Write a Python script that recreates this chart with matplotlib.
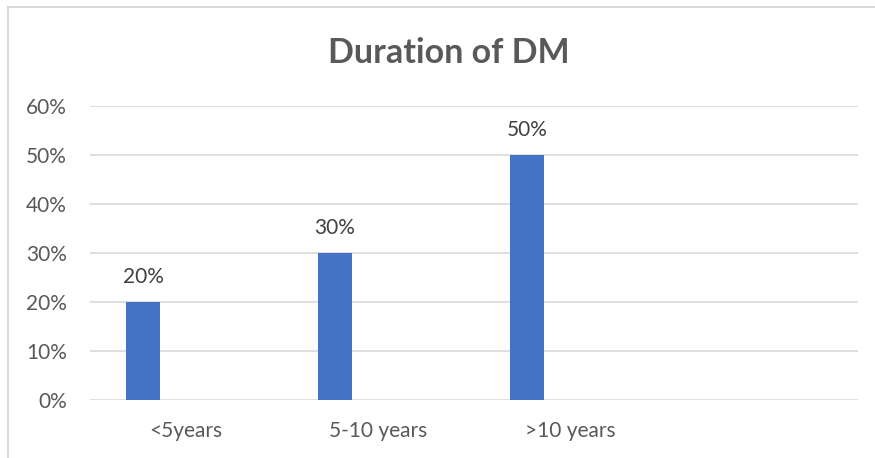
import matplotlib.pyplot as plt
from matplotlib.patches import Rectangle

categories = ["<5years", "5-10 years", ">10 years", ""]
values = [20, 30, 50]
yticks = [0, 10, 20, 30, 40, 50, 60]

W, H = 875, 458
fig = plt.figure(figsize=(W / 100, H / 100), dpi=100)
plt.rcParams['font.family'] = ['Lato', 'DejaVu Sans']
grey = '#595959'

# chart border (runs off the right and bottom edges)
fig.patches.append(Rectangle((8 / W, -0.05), 1.0, 1 - 7 / H + 0.05,
                             transform=fig.transFigure, fill=False,
                             edgecolor='#D9D9D9', linewidth=1.5))

ax = fig.add_axes([90 / W, 1 - 400 / H, 768 / W, 294 / H])
x = range(len(values))
offset = -0.224
bars = ax.bar([i + offset for i in x], values, width=0.177, color='#4472C4', zorder=3)
for i, v in zip(x, values):
    ax.text(i + offset, v + 3.0, f"{v}%", ha='center', va='bottom',
            fontsize=15, color='#404040')

ax.set_xlim(-0.5, len(categories) - 0.5)
ax.set_ylim(0, 60)
ax.set_yticks(yticks)
ax.set_yticklabels([f"{t}%" for t in yticks])
ax.set_xticks(range(len(categories)))
ax.set_xticklabels(categories)
ax.yaxis.grid(True, color='#D9D9D9', linewidth=1.2, zorder=0)
ax.tick_params(length=0, labelsize=15, colors=grey)
ax.tick_params(axis='y', pad=16.5)
ax.tick_params(axis='x', pad=15)
for s in ax.spines.values():
    s.set_visible(False)

fig.text(449 / W, 1 - 53 / H, "Duration of DM", ha='center', va='center',
         fontsize=24.5, fontweight='bold', color=grey)

fig.savefig('out.png', dpi=100)
